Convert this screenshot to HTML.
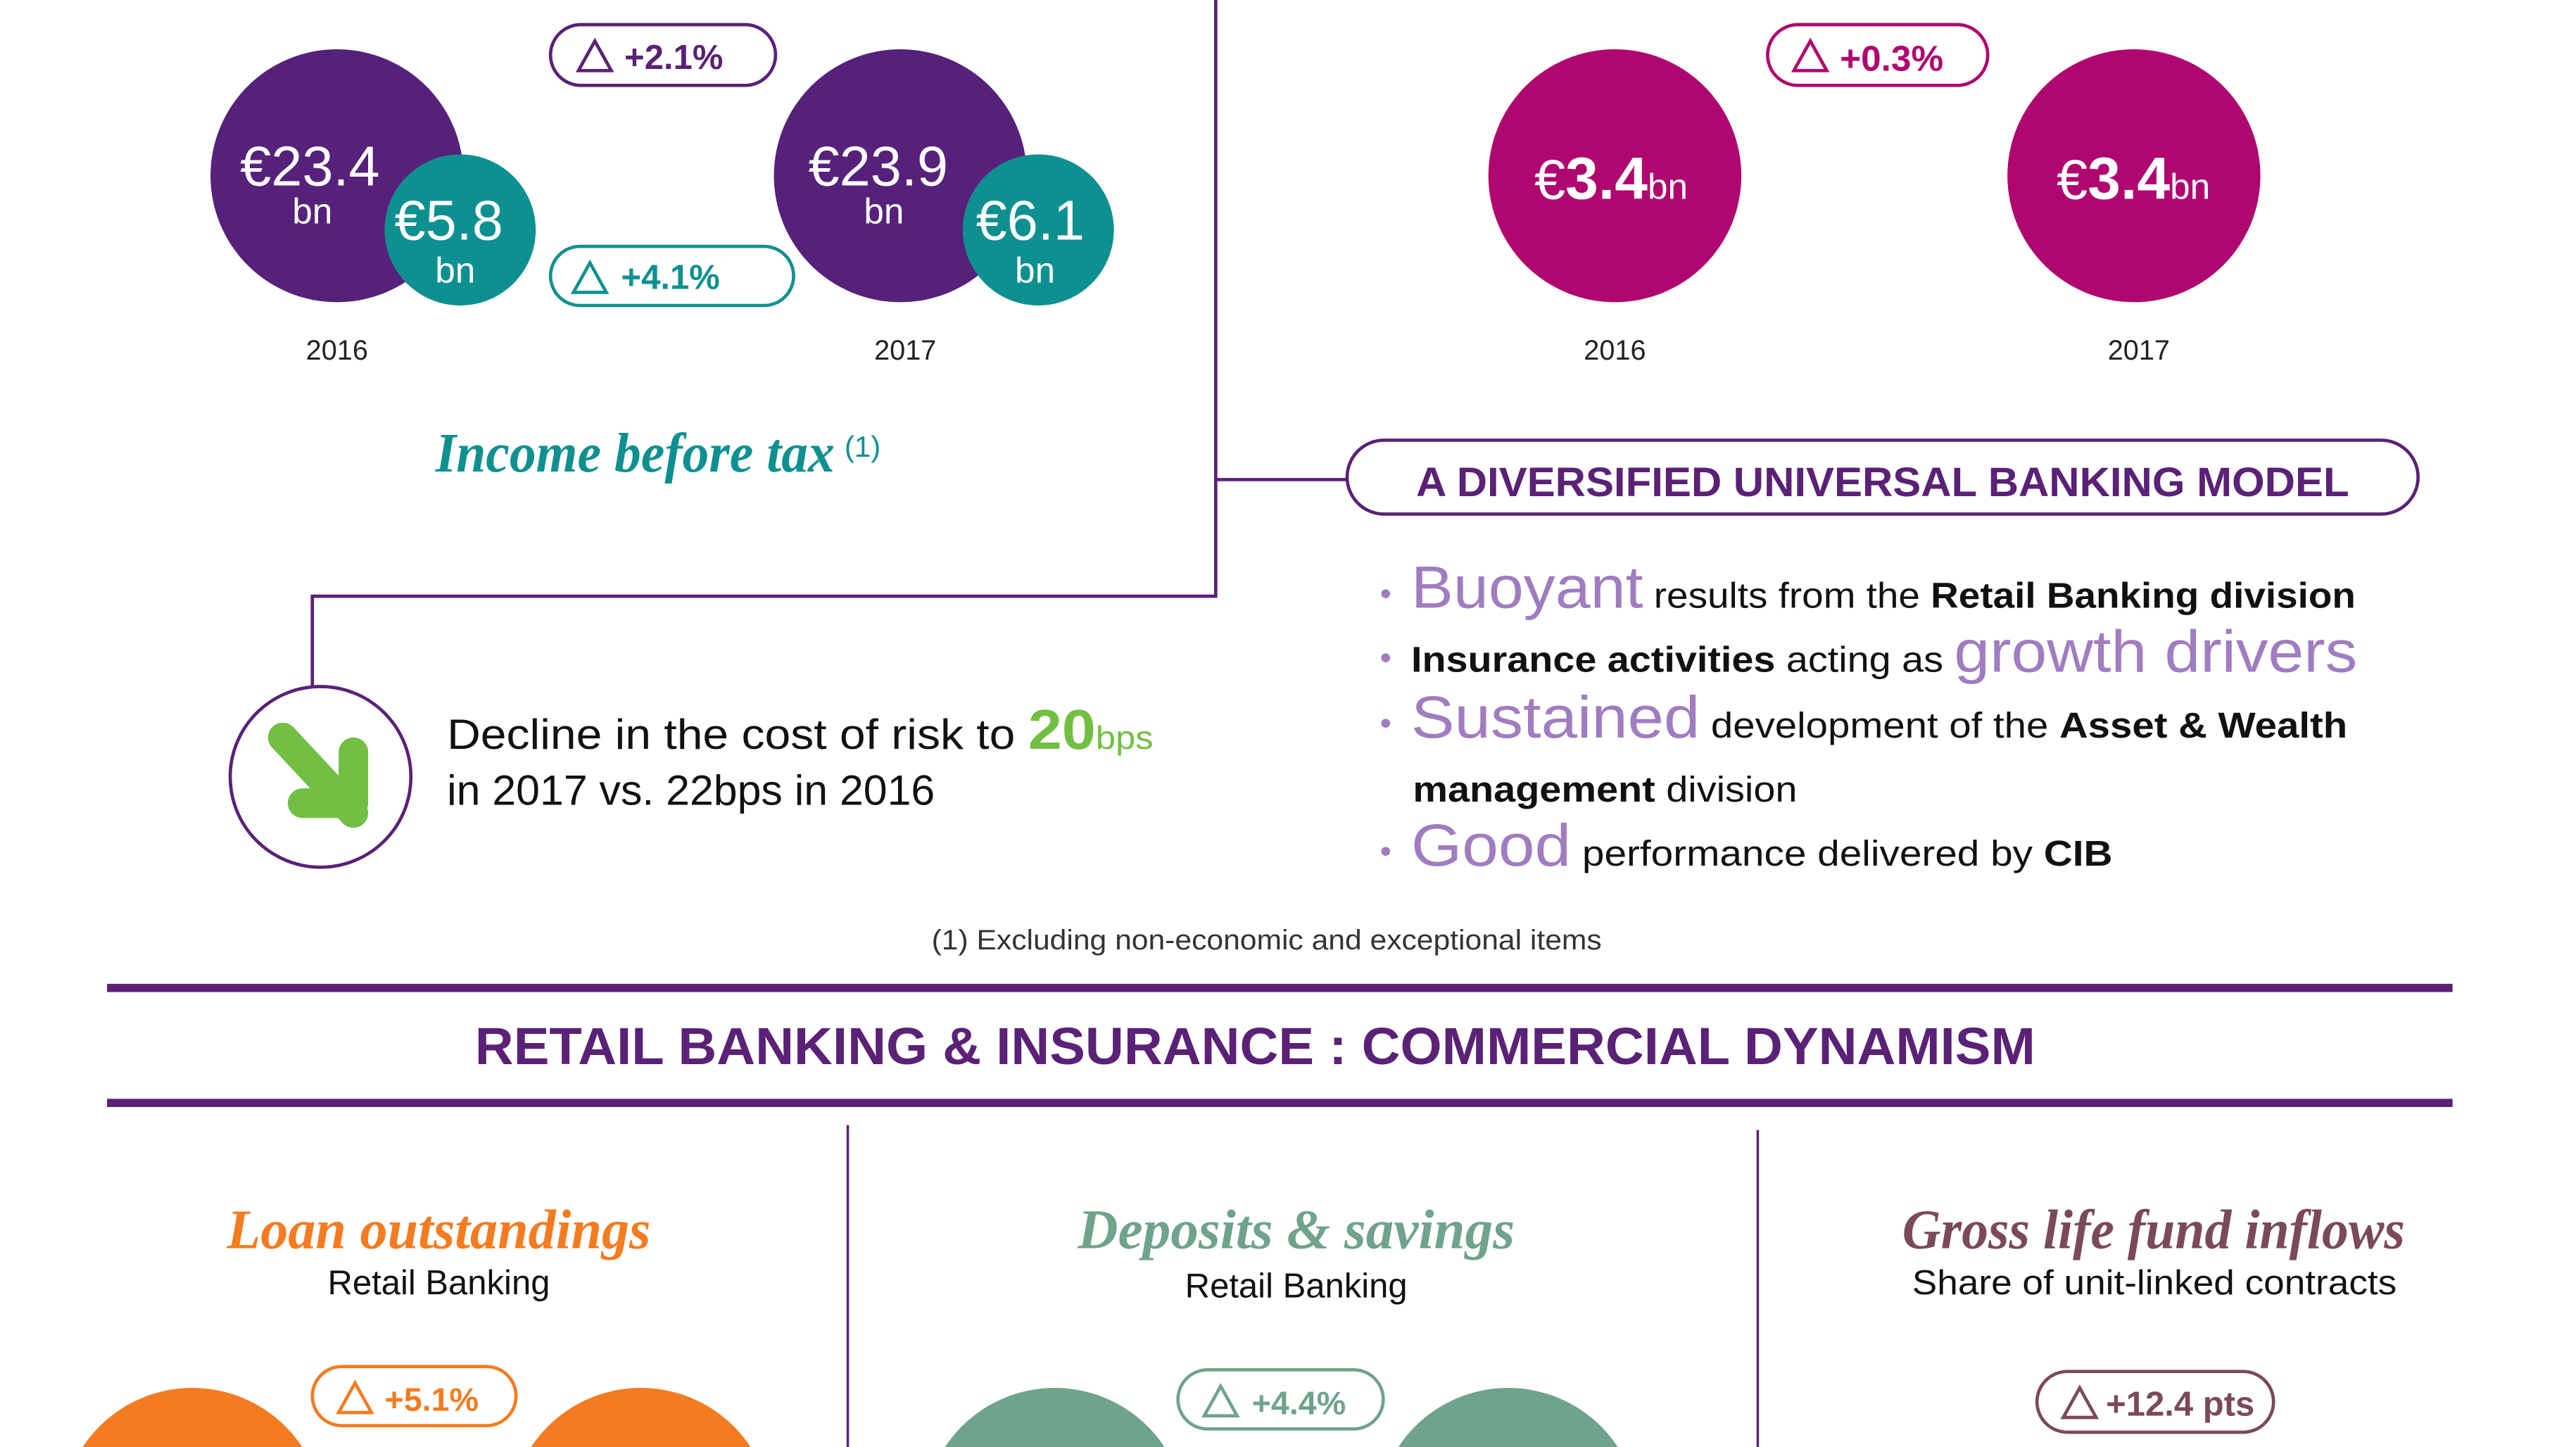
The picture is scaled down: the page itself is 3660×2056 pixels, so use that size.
<!DOCTYPE html>
<html><head><meta charset="utf-8"><style>
html,body{margin:0;padding:0;background:#fff;width:3660px;height:2056px;overflow:hidden;}
svg{display:block;}
text{font-family:"Liberation Sans",sans-serif;}
.cur{font-family:"Liberation Serif",serif;font-style:italic;font-weight:bold;}
</style></head><body>
<svg width="3660" height="2056" viewBox="0 0 1568 881" xmlns="http://www.w3.org/2000/svg">
<rect width="1568" height="881" fill="#fff"/>
<g stroke="#5a2176" stroke-width="2" fill="none">
<polyline points="740,0 740,363 190,363 190,418"/>
<line x1="740" y1="292" x2="820" y2="292"/>
</g>
<rect x="335" y="15" width="137" height="37" rx="18.5" fill="#fff" stroke="#5a2176" stroke-width="2"/>
<polygon points="352,43 362,25 372,43" fill="none" stroke="#5a2176" stroke-width="2"/>
<text x="380" y="42" font-size="21" font-weight="bold" fill="#5a2176">+2.1%</text>
<circle cx="205" cy="107" r="77" fill="#56217a"/>
<circle cx="280" cy="140" r="46" fill="#0f9090"/>
<text x="146" y="113" font-size="34" fill="#fff">€23.4</text>
<text x="190" y="136" font-size="22" fill="#fff" text-anchor="middle">bn</text>
<text x="240" y="146" font-size="34" fill="#fff">€5.8</text>
<text x="277" y="172" font-size="22" fill="#fff" text-anchor="middle">bn</text>
<circle cx="548" cy="107" r="77" fill="#56217a"/>
<circle cx="632" cy="140" r="46" fill="#0f9090"/>
<text x="492" y="113" font-size="34" fill="#fff">€23.9</text>
<text x="538" y="136" font-size="22" fill="#fff" text-anchor="middle">bn</text>
<text x="594" y="146" font-size="34" fill="#fff">€6.1</text>
<text x="630" y="172" font-size="22" fill="#fff" text-anchor="middle">bn</text>
<rect x="335" y="150" width="148" height="36" rx="18" fill="#fff" stroke="#0f9090" stroke-width="2"/>
<polygon points="349,178 359,160 369,178" fill="none" stroke="#0f9090" stroke-width="2"/>
<text x="378" y="176" font-size="21" font-weight="bold" fill="#0f9090">+4.1%</text>
<text x="205" y="219" font-size="17" fill="#222" text-anchor="middle">2016</text>
<text x="551" y="219" font-size="17" fill="#222" text-anchor="middle">2017</text>
<text x="265" y="287" class="cur" font-size="34" fill="#0f9090" textLength="243" lengthAdjust="spacingAndGlyphs">Income before tax</text>
<text x="514" y="278" font-size="18" fill="#0f9090">(1)</text>
<rect x="1076" y="15" width="134" height="37" rx="18.5" fill="#fff" stroke="#b0066f" stroke-width="2"/>
<polygon points="1092,43 1102,25 1112,43" fill="none" stroke="#b0066f" stroke-width="2"/>
<text x="1120" y="43" font-size="22" font-weight="bold" fill="#b0066f">+0.3%</text>
<circle cx="983" cy="107" r="77" fill="#b0066f"/>
<circle cx="1299" cy="107" r="77" fill="#b0066f"/>
<text x="934" y="121" fill="#fff"><tspan font-size="34">€</tspan><tspan font-size="36" font-weight="bold">3.4</tspan><tspan font-size="22">bn</tspan></text>
<text x="1252" y="121" fill="#fff"><tspan font-size="34">€</tspan><tspan font-size="36" font-weight="bold">3.4</tspan><tspan font-size="22">bn</tspan></text>
<text x="983" y="219" font-size="17" fill="#222" text-anchor="middle">2016</text>
<text x="1302" y="219" font-size="17" fill="#222" text-anchor="middle">2017</text>
<rect x="820" y="268" width="652" height="45" rx="22.5" fill="#fff" stroke="#5a2176" stroke-width="2"/>
<text x="862" y="302" font-size="25" font-weight="bold" fill="#5a2176" textLength="568" lengthAdjust="spacingAndGlyphs">A DIVERSIFIED UNIVERSAL BANKING MODEL</text>
<g font-size="20" fill="#a07cc0"><text x="840" y="368">•</text><text x="840" y="407">•</text><text x="840" y="447">•</text><text x="840" y="525">•</text></g>
<g font-size="22" fill="#111">
<text x="859" y="370" textLength="575" lengthAdjust="spacingAndGlyphs"><tspan fill="#a07cc0" font-size="36">Buoyant</tspan> results from the <tspan font-weight="bold">Retail Banking division</tspan></text>
<text x="859" y="409" textLength="576" lengthAdjust="spacingAndGlyphs"><tspan font-weight="bold">Insurance activities</tspan> acting as <tspan fill="#a07cc0" font-size="36">growth drivers</tspan></text>
<text x="859" y="449" textLength="570" lengthAdjust="spacingAndGlyphs"><tspan fill="#a07cc0" font-size="36">Sustained</tspan> development of the <tspan font-weight="bold">Asset &amp; Wealth</tspan></text>
<text x="860" y="488" textLength="234" lengthAdjust="spacingAndGlyphs"><tspan font-weight="bold">management</tspan> division</text>
<text x="859" y="527" textLength="427" lengthAdjust="spacingAndGlyphs"><tspan fill="#a07cc0" font-size="36">Good</tspan> performance delivered by <tspan font-weight="bold">CIB</tspan></text>
</g>
<circle cx="195" cy="473" r="55" fill="#fff" stroke="#5a2176" stroke-width="2"/>
<g stroke="#72bf44" stroke-width="18" stroke-linecap="round" stroke-linejoin="round" fill="none">
<line x1="172" y1="449" x2="215" y2="495"/>
<polyline points="215,458 215,489 184,489"/>
</g>
<text x="272" y="456" font-size="26" fill="#111" textLength="430" lengthAdjust="spacingAndGlyphs">Decline in the cost of risk to <tspan fill="#72bf44" font-weight="bold" font-size="34">20</tspan><tspan fill="#72bf44" font-size="20">bps</tspan></text>
<text x="272" y="490" font-size="26" fill="#111" textLength="297" lengthAdjust="spacingAndGlyphs">in 2017 vs. 22bps in 2016</text>
<text x="567" y="578" font-size="17" fill="#333" textLength="408" lengthAdjust="spacingAndGlyphs">(1) Excluding non-economic and exceptional items</text>
<rect x="65" y="599" width="1428" height="5" fill="#5a2176"/>
<rect x="65" y="669" width="1428" height="5" fill="#5a2176"/>
<text x="289" y="648" font-size="32" font-weight="bold" fill="#5a2176" textLength="950" lengthAdjust="spacingAndGlyphs">RETAIL BANKING &amp; INSURANCE : COMMERCIAL DYNAMISM</text>
<line x1="516" y1="685" x2="516" y2="881" stroke="#5a2176" stroke-width="1.5"/>
<line x1="1070" y1="688" x2="1070" y2="881" stroke="#5a2176" stroke-width="1.5"/>
<text x="138" y="760" class="cur" font-size="34" fill="#f47b20" textLength="258" lengthAdjust="spacingAndGlyphs">Loan outstandings</text>
<text x="267" y="788" font-size="21" fill="#111" text-anchor="middle">Retail Banking</text>
<text x="656" y="760" class="cur" font-size="34" fill="#6fa38b" textLength="266" lengthAdjust="spacingAndGlyphs">Deposits &amp; savings</text>
<text x="789" y="790" font-size="21" fill="#111" text-anchor="middle">Retail Banking</text>
<text x="1158" y="760" class="cur" font-size="34" fill="#7a4a5a" textLength="306" lengthAdjust="spacingAndGlyphs">Gross life fund inflows</text>
<text x="1164" y="788" font-size="21" fill="#111" textLength="295" lengthAdjust="spacingAndGlyphs">Share of unit-linked contracts</text>
<circle cx="117" cy="925" r="80" fill="#f47b20"/>
<circle cx="390" cy="925" r="80" fill="#f47b20"/>
<circle cx="642" cy="925" r="80" fill="#6fa38b"/>
<circle cx="918" cy="925" r="80" fill="#6fa38b"/>
<rect x="190" y="832" width="124" height="36" rx="18" fill="#fff" stroke="#f47b20" stroke-width="2"/>
<polygon points="206,860 216,842 226,860" fill="none" stroke="#f47b20" stroke-width="2"/>
<text x="234" y="859" font-size="20" font-weight="bold" fill="#f47b20">+5.1%</text>
<rect x="717" y="834" width="125" height="36" rx="18" fill="#fff" stroke="#6fa38b" stroke-width="2"/>
<polygon points="733,862 743,844 753,862" fill="none" stroke="#6fa38b" stroke-width="2"/>
<text x="762" y="861" font-size="20" font-weight="bold" fill="#6fa38b">+4.4%</text>
<rect x="1240" y="835" width="144" height="37" rx="18.5" fill="#fff" stroke="#7a4a5a" stroke-width="2"/>
<polygon points="1256,863 1266,845 1276,863" fill="none" stroke="#7a4a5a" stroke-width="2"/>
<text x="1282" y="862" font-size="21" font-weight="bold" fill="#7a4a5a">+12.4 pts</text>
</svg>
</body></html>
